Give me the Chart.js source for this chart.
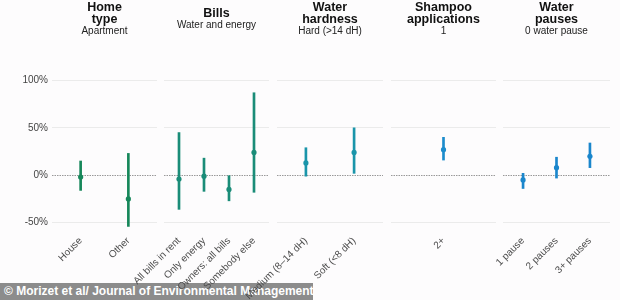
<!DOCTYPE html>
<html>
<head>
<meta charset="utf-8">
<script src="https://cdn.jsdelivr.net/npm/chart.js@4"></script>
<style>
  html, body { margin:0; padding:0; background:#fdfcfd; }
  #wrap { position:relative; width:620px; height:300px; overflow:hidden; font-family:"Liberation Sans", Arial, sans-serif; }
  canvas { position:absolute; left:0; top:0; z-index:2; }
  .hdr { position:absolute; top:1px; height:36px; display:flex; flex-direction:column; justify-content:center; align-items:center; text-align:center; color:#111; z-index:3; }
  .hdr .t { font-weight:bold; font-size:12.5px; line-height:11.5px; }
  .hdr .s { font-size:10px; line-height:11px; color:#222; }
  #banner { position:absolute; left:0; top:283px; width:313px; height:17px; background:#8c8c8c; color:#fff; font-weight:bold; font-size:12px; line-height:17px; padding-left:4px; box-sizing:border-box; white-space:nowrap; z-index:1; }
</style>
</head>
<body>
<div id="wrap">
  <div id="banner">© Morizet et al/ Journal of Environmental Management</div>
  <div class="hdr" style="left:52px;width:105px"><div class="t">Home<br>type</div><div class="s">Apartment</div></div>
  <div class="hdr" style="left:164px;width:105px"><div class="t">Bills</div><div class="s">Water and energy</div></div>
  <div class="hdr" style="left:277px;width:106px"><div class="t">Water<br>hardness</div><div class="s">Hard (&gt;14 dH)</div></div>
  <div class="hdr" style="left:391px;width:105px"><div class="t">Shampoo<br>applications</div><div class="s">1</div></div>
  <div class="hdr" style="left:503px;width:107px"><div class="t">Water<br>pauses</div><div class="s">0 water pause</div></div>
  <canvas id="c1" width="620" height="300"></canvas>
  <canvas id="c2" width="620" height="300"></canvas>
  <canvas id="c3" width="620" height="300"></canvas>
  <canvas id="c4" width="620" height="300"></canvas>
  <canvas id="c5" width="620" height="300"></canvas>
</div>
<script>
// ---- data (percent change) ----
const yTicks = [-50, 0, 50, 100];

const homeCats = ['House', 'Other'];
const homeEst  = [-2, -25];
const homeLo   = [-16, -54];
const homeHi   = [15, 23];

const billsCats = ['All bills in rent', 'Only energy', 'Owners: all bills', 'Somebody else'];
const billsEst  = [-4, -1, -15, 24];
const billsLo   = [-36, -17, -27, -18];
const billsHi   = [45, 18, 0, 87];

const hardCats = ['Medium (8–14 dH)', 'Soft (<8 dH)'];
const hardEst  = [13, 24];
const hardLo   = [-1, 2];
const hardHi   = [29, 50];

const shampooCats = ['2+'];
const shampooEst  = [27];
const shampooLo   = [16];
const shampooHi   = [40];

const pauseCats = ['1 pause', '2 pauses', '3+ pauses'];
const pauseEst  = [-5, 8, 20];
const pauseLo   = [-14, -3, 8];
const pauseHi   = [2, 19, 34];

const FONT = '"Liberation Sans", Arial, sans-serif';

const zeroLine = {
  id: 'zeroLine',
  beforeDatasetsDraw(chart) {
    const { ctx, chartArea, scales } = chart;
    const y = Math.round(scales.y.getPixelForValue(0)) + 0.5;
    ctx.save();
    ctx.strokeStyle = '#999999';
    ctx.lineWidth = 1;
    ctx.setLineDash([1.5, 1]);
    ctx.beginPath();
    ctx.moveTo(chartArea.left, y);
    ctx.lineTo(chartArea.right, y);
    ctx.stroke();
    ctx.restore();
  }
};

function makePanel(id, cats, est, lo, hi, color, left, right, showY) {
  new Chart(document.getElementById(id), {
    type: 'bar',
    data: {
      datasets: [
        { type: 'bar', data: cats.map((c, i) => ({ x: i + 1, y: [lo[i], hi[i]] })),
          backgroundColor: color, barThickness: 2, borderWidth: 0, order: 2 },
        { type: 'scatter', data: cats.map((c, i) => ({ x: i + 1, y: est[i] })),
          backgroundColor: color, borderColor: color, pointRadius: 2.6, borderWidth: 0, order: 1 }
      ]
    },
    options: {
      responsive: false,
      animation: false,
      events: [],
      layout: { padding: { left: showY ? 0 : left, right: 620 - right, top: 70, bottom: 0 } },
      plugins: { legend: { display: false }, tooltip: { enabled: false } },
      scales: {
        x: {
          type: 'linear', offset: false,
          min: 0.4, max: cats.length + 0.6,
          grid: { display: false }, border: { display: false },
          afterBuildTicks: s => { s.ticks = cats.map((c, i) => ({ value: i + 1 })); },
          afterFit: s => { s.height = 66; },
          ticks: {
            autoSkip: false, minRotation: 45, maxRotation: 45, padding: -7,
            font: { size: 10, family: FONT }, color: '#4d4d4d',
            callback: v => cats[Math.round(v) - 1] ?? ''
          }
        },
        y: {
          min: -62, max: 111,
          afterBuildTicks: s => { s.ticks = yTicks.map(v => ({ value: v })); },
          afterFit: s => { s.width = showY ? left : 0; },
          grid: { color: c => (c.tick && c.tick.value === 0) ? 'rgba(0,0,0,0)' : '#ebebeb', drawTicks: false, lineWidth: 1 },
          border: { display: false },
          ticks: {
            display: showY, padding: 4,
            font: { size: 10, family: FONT }, color: '#444444',
            callback: v => v + '%'
          }
        }
      }
    },
    plugins: [zeroLine]
  });
}

makePanel('c1', homeCats, homeEst, homeLo, homeHi, '#16875a', 52, 157, true);
makePanel('c2', billsCats, billsEst, billsLo, billsHi, '#1a8c78', 164, 269, false);
makePanel('c3', hardCats, hardEst, hardLo, hardHi, '#1a95aa', 277, 383, false);
makePanel('c4', shampooCats, shampooEst, shampooLo, shampooHi, '#1c8ccc', 391, 496, false);
makePanel('c5', pauseCats, pauseEst, pauseLo, pauseHi, '#1a86cc', 503, 610, false);
</script>
</body>
</html>
